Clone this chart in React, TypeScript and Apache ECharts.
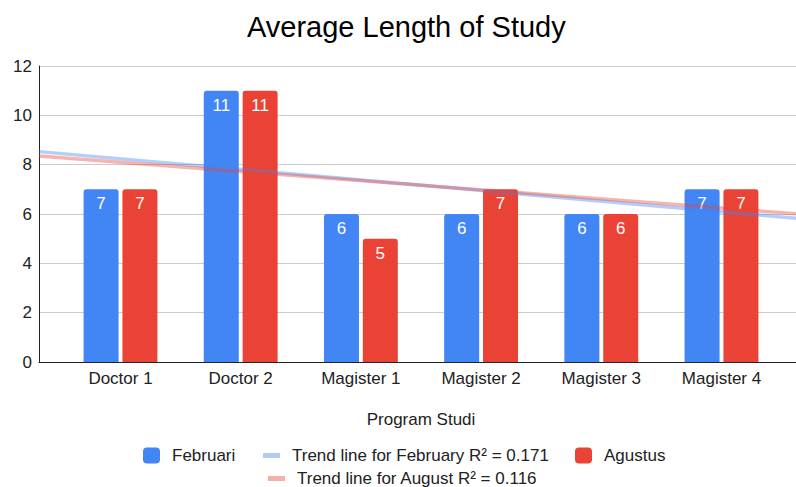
import React, { useEffect, useRef } from "react";
import * as echarts from "echarts";

const categories = ["Doctor 1", "Doctor 2", "Magister 1", "Magister 2", "Magister 3", "Magister 4"];
const februari = [7, 11, 6, 6, 6, 7];
const agustus = [7, 11, 5, 7, 6, 7];
const yTicks = { min: 0, max: 12, interval: 2 };
const seriesNames = ["Februari", "Agustus"];
const trendNames = ["Trend line for February R² = 0.171", "Trend line for August R² = 0.116"];

// layout (pixels)
const W = 796;
const H = 487;
const PLOT_LEFT = 39;
const PLOT_RIGHT = 0;
const BAND_LEFT = 60.4;
const BAND_RIGHT = 14.4;
const TOP = 66;
const BOTTOM = 125;

// least-squares trend line, evaluated at both ends of the trend axis
function trend(values: number[], x0: number, x1: number): number[][] {
  const n = values.length;
  const mx = (n - 1) / 2;
  const my = values.reduce((a, b) => a + b, 0) / n;
  let sxy = 0, sxx = 0;
  values.forEach((v, i) => { sxy += (i - mx) * (v - my); sxx += (i - mx) * (i - mx); });
  const k = sxy / sxx;
  return [[x0, my + k * (x0 - mx)], [x1, my + k * (x1 - mx)]];
}

const BLUE = "#4285F4";
const RED = "#EA4335";
const FONT = "Liberation Sans, Arial, sans-serif";

export default function App() {
  const ref = useRef<HTMLDivElement>(null);
  useEffect(() => {
    const chart = echarts.init(ref.current!, null, { renderer: "svg" });
    // map the full plot width onto category-index units
    const bandW = (W - BAND_LEFT - BAND_RIGHT) / categories.length;
    const xMin = (PLOT_LEFT - BAND_LEFT) / bandW - 0.5;
    const xMax = (W - PLOT_RIGHT - BAND_LEFT) / bandW - 0.5;

    const legendText = (pad: number) => ({ fontSize: 17, color: "#222", fontFamily: FONT, padding: [0, 0, 0, pad] });
    const barLabel = { show: true, position: "insideTop", distance: 6, color: "#fff", fontSize: 17, fontFamily: FONT };

    chart.setOption({
      animation: false,
      textStyle: { fontFamily: FONT },
      title: {
        text: "Average Length of Study",
        left: 247,
        top: 12,
        padding: 0,
        textStyle: { fontSize: 29, fontWeight: "normal", color: "#000", fontFamily: FONT },
      },
      legend: [
        { data: [{ name: seriesNames[0], icon: "roundRect" }], left: 143, top: 447, padding: 0, itemWidth: 17, itemHeight: 16, textStyle: legendText(7) },
        { data: [{ name: trendNames[0], icon: "rect" }], left: 263, top: 447, padding: 0, itemWidth: 17, itemHeight: 5, textStyle: legendText(7) },
        { data: [{ name: seriesNames[1], icon: "roundRect" }], left: 575, top: 447, padding: 0, itemWidth: 17, itemHeight: 16, textStyle: legendText(7) },
        { data: [{ name: trendNames[1], icon: "rect" }], left: 268, top: 470, padding: 0, itemWidth: 17, itemHeight: 5, textStyle: legendText(7) },
      ],
      grid: [
        { left: PLOT_LEFT, right: PLOT_RIGHT, top: TOP, bottom: BOTTOM },
        { left: BAND_LEFT, right: BAND_RIGHT, top: TOP, bottom: BOTTOM },
      ],
      xAxis: [
        {
          type: "value",
          gridIndex: 0,
          min: xMin,
          max: xMax,
          axisLine: { show: true, onZero: false, lineStyle: { color: "#222", width: 1 } },
          axisTick: { show: false },
          axisLabel: { show: false },
          splitLine: { show: false },
        },
        {
          type: "category",
          gridIndex: 1,
          data: categories,
          name: "Program Studi",
          nameLocation: "middle",
          nameGap: 49,
          nameTextStyle: { fontSize: 17, color: "#222", fontFamily: FONT },
          axisLine: { show: false },
          axisTick: { show: false },
          axisLabel: { fontSize: 17, color: "#222", margin: 8, fontFamily: FONT },
        },
      ],
      yAxis: [
        {
          type: "value",
          gridIndex: 0,
          min: yTicks.min,
          max: yTicks.max,
          interval: yTicks.interval,
          axisLine: { show: true, onZero: false, lineStyle: { color: "#222", width: 1 } },
          axisTick: { show: false },
          axisLabel: { fontSize: 17, color: "#222", margin: 7, fontFamily: FONT },
          splitLine: { lineStyle: { color: "#ccc" } },
        },
        {
          type: "value",
          gridIndex: 1,
          min: yTicks.min,
          max: yTicks.max,
          interval: yTicks.interval,
          show: false,
          splitLine: { show: false },
        },
      ],
      series: [
        {
          name: seriesNames[0],
          type: "bar",
          xAxisIndex: 1,
          yAxisIndex: 1,
          data: februari,
          barWidth: 35,
          barGap: "11%",
          itemStyle: { color: BLUE, borderRadius: [3, 3, 0, 0] },
          label: barLabel,
          z: 2,
        },
        {
          name: seriesNames[1],
          type: "bar",
          xAxisIndex: 1,
          yAxisIndex: 1,
          data: agustus,
          barWidth: 35,
          itemStyle: { color: RED, borderRadius: [3, 3, 0, 0] },
          label: barLabel,
          z: 2,
        },
        {
          name: trendNames[0],
          type: "line",
          xAxisIndex: 0,
          yAxisIndex: 0,
          data: trend(februari, xMin, xMax),
          symbol: "none",
          lineStyle: { color: BLUE, width: 3.5, opacity: 0.4 },
          itemStyle: { color: "#aecbfa" },
          z: 5,
        },
        {
          name: trendNames[1],
          type: "line",
          xAxisIndex: 0,
          yAxisIndex: 0,
          data: trend(agustus, xMin, xMax),
          symbol: "none",
          lineStyle: { color: RED, width: 3.5, opacity: 0.4 },
          itemStyle: { color: "#f6aea9" },
          z: 5,
        },
      ],
    });
    return () => chart.dispose();
  }, []);
  return <div ref={ref} style={{ width: W, height: H, position: "absolute", left: 0, top: 0 }} />;
}
